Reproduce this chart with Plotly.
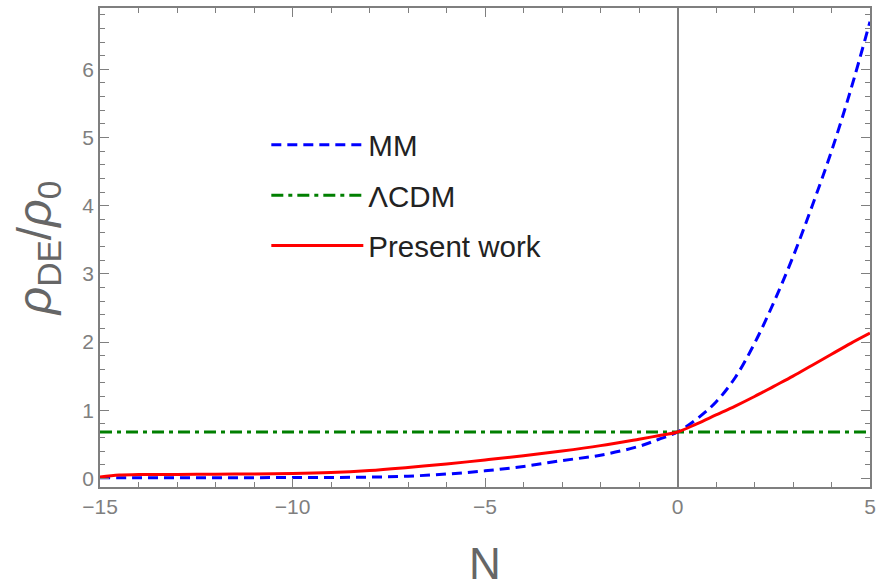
import plotly.graph_objects as go

# N values and curves
N_mm = [-15, -14, -13, -12, -11, -10, -9, -8, -7, -6, -5, -4, -3, -2, -1, -0.5, 0,
        0.5, 1, 1.5, 2, 2.5, 3, 3.5, 4, 4.5, 5]
rho_mm = [0.01, 0.01, 0.01, 0.01, 0.01, 0.012, 0.013, 0.018, 0.032, 0.063, 0.11, 0.175,
          0.26, 0.34, 0.47, 0.57, 0.68,
          0.87, 1.12, 1.48, 1.98, 2.58, 3.25, 4.0, 4.8, 5.7, 6.7]

N_pw = [-15, -14.5, -14, -13, -12, -11, -10, -9, -8, -7, -6, -5, -4, -3, -2, -1, -0.5, 0,
        0.5, 1, 1.5, 2, 2.5, 3, 3.5, 4, 4.5, 5]
rho_pw = [0.02, 0.05, 0.055, 0.058, 0.06, 0.065, 0.07, 0.085, 0.115, 0.16, 0.21, 0.27,
          0.33, 0.40, 0.48, 0.575, 0.625, 0.68,
          0.80, 0.93, 1.06, 1.20, 1.35, 1.50, 1.66, 1.82, 1.98, 2.13]

N_lcdm = [-15, 5]
rho_lcdm = [0.68, 0.68]

names = ["MM", "ΛCDM", "Present work"]

AX = "#7f7f7f"
FONT = "Liberation Sans, Arial, sans-serif"

fig = go.Figure()
fig.add_trace(go.Scatter(x=N_mm, y=rho_mm, mode="lines", name=names[0], legendgroup="a",
                         line=dict(color="#0000ff", width=3, dash="10px,6px", shape="spline", smoothing=1.0)))
fig.add_trace(go.Scatter(x=N_lcdm, y=rho_lcdm, mode="lines", name=names[1], legendgroup="b",
                         line=dict(color="#007f00", width=3, dash="12px,5px,4px,5px")))
fig.add_trace(go.Scatter(x=N_pw, y=rho_pw, mode="lines", name=names[2], legendgroup="c",
                         line=dict(color="#ff0000", width=3, shape="spline", smoothing=1.0)))

fig.update_layout(
    width=881, height=588,
    margin=dict(l=100, r=5, t=8, b=100),
    paper_bgcolor="white", plot_bgcolor="white",
    font=dict(family=FONT, color=AX, size=21),
    showlegend=True,
    legend=dict(x=0.216, y=0.768, xanchor="left", yanchor="top",
                bgcolor="rgba(0,0,0,0)", font=dict(size=29.5, color="#222222"),
                traceorder="grouped", tracegroupgap=9, itemwidth=92),
)
fig.update_xaxes(
    range=[-15, 5], dtick=5, tick0=0,
    showline=True, linecolor=AX, linewidth=1.6, mirror="ticks",
    ticks="inside", ticklen=9, tickwidth=1.3, tickcolor=AX,
    minor=dict(dtick=1, ticks="inside", ticklen=5, tickwidth=1.2, tickcolor=AX),
    showgrid=False, zeroline=True, zerolinecolor=AX, zerolinewidth=1.5,
    tickfont=dict(size=21, color=AX),
    title=dict(text="N", font=dict(size=44, color="#666666"), standoff=34),
)
fig.update_yaxes(
    range=[-0.127, 6.90], dtick=1, tick0=0,
    showline=True, linecolor=AX, linewidth=1.6, mirror="ticks",
    ticks="inside", ticklen=9, tickwidth=1.3, tickcolor=AX,
    minor=dict(dtick=0.2, ticks="inside", ticklen=5, tickwidth=1.2, tickcolor=AX),
    showgrid=False, zeroline=False,
    tickfont=dict(size=21, color=AX),
    title=dict(text="<i>ρ</i><sub>DE</sub>/<i>ρ</i><sub>0</sub>", font=dict(size=48, color="#666666"), standoff=16),
)

fig.write_html("out.html")
